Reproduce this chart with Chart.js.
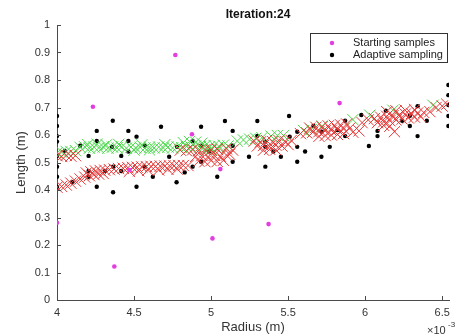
<!DOCTYPE html>
<html>
<head>
<meta charset="utf-8">
<script src="https://cdn.jsdelivr.net/npm/chart.js@4/dist/chart.umd.min.js"></script>
<style>
  body { margin: 0; background: #fff; }
</style>
</head>
<body>
<canvas id="sampling" width="458" height="335"></canvas>
<script>
// radius values are in units of 1e-3 m
const titleText = 'Iteration:24';
const xTicks = [4, 4.5, 5, 5.5, 6, 6.5];
const yTicks = [0, 0.1, 0.2, 0.3, 0.4, 0.5, 0.6, 0.7, 0.8, 0.9, 1];

const startingSamples = [
  [4.0, 0.281], [4.233, 0.703], [4.372, 0.122], [4.47, 0.473], [4.768, 0.891],
  [4.876, 0.603], [5.009, 0.224], [5.06, 0.476], [5.373, 0.276], [5.834, 0.716]
];

const adaptiveSamples = [
  [4.0, 0.669], [4.0, 0.633], [4.0, 0.596], [4.0, 0.576], [4.0, 0.524], [4.0, 0.485],
  [4.0, 0.448], [4.0, 0.412], [4.05, 0.542], [4.1, 0.428], [4.15, 0.561], [4.205, 0.524],
  [4.205, 0.448], [4.205, 0.469], [4.258, 0.615], [4.258, 0.578], [4.258, 0.412], [4.311, 0.469],
  [4.357, 0.557], [4.362, 0.652], [4.364, 0.485], [4.364, 0.392], [4.417, 0.524], [4.417, 0.469],
  [4.463, 0.615], [4.463, 0.578], [4.463, 0.54], [4.516, 0.594], [4.516, 0.412], [4.569, 0.561],
  [4.569, 0.485], [4.622, 0.448], [4.675, 0.63], [4.728, 0.521], [4.776, 0.428], [4.78, 0.557],
  [4.829, 0.464], [4.88, 0.578], [4.88, 0.485], [4.935, 0.63], [4.935, 0.561], [4.935, 0.503],
  [4.987, 0.54], [5.04, 0.448], [5.09, 0.651], [5.14, 0.615], [5.14, 0.561], [5.14, 0.503],
  [5.246, 0.521], [5.3, 0.651], [5.3, 0.597], [5.352, 0.576], [5.352, 0.557], [5.352, 0.485],
  [5.404, 0.54], [5.453, 0.521], [5.506, 0.669], [5.51, 0.594], [5.559, 0.612], [5.559, 0.557],
  [5.559, 0.503], [5.61, 0.54], [5.664, 0.633], [5.716, 0.521], [5.717, 0.612], [5.77, 0.557],
  [5.82, 0.618], [5.87, 0.652], [5.87, 0.596], [5.975, 0.673], [6.024, 0.56], [6.08, 0.615],
  [6.08, 0.596], [6.134, 0.688], [6.24, 0.652], [6.29, 0.633], [6.29, 0.67], [6.34, 0.705],
  [6.34, 0.596], [6.4, 0.652], [6.54, 0.782], [6.54, 0.745], [6.54, 0.709], [6.54, 0.669], [6.54, 0.633]
];

const greenCrosses = [
  [4.00, 0.535], [4.03, 0.538], [4.06, 0.540], [4.09, 0.540], [4.12, 0.543],
  [4.15, 0.555], [4.18, 0.557], [4.21, 0.552], [4.24, 0.556], [4.27, 0.553], [4.30, 0.557],
  [4.33, 0.552], [4.36, 0.556], [4.39, 0.553], [4.42, 0.557], [4.45, 0.552], [4.48, 0.556],
  [4.51, 0.553], [4.54, 0.555], [4.57, 0.552], [4.60, 0.556], [4.63, 0.553], [4.66, 0.556],
  [4.69, 0.553], [4.72, 0.556], [4.75, 0.553], [4.78, 0.557], [4.81, 0.554], [4.84, 0.558],
  [4.87, 0.556], [4.90, 0.560], [4.93, 0.557], [4.96, 0.561], [4.99, 0.558], [5.02, 0.562],
  [5.05, 0.559], [5.08, 0.563], [5.11, 0.560],
  [4.20, 0.565], [4.26, 0.566], [4.32, 0.564], [4.40, 0.566], [4.55, 0.564], [4.70, 0.565],
  [4.82, 0.572], [4.86, 0.576], [4.90, 0.574], [4.94, 0.570], [4.97, 0.545], [5.00, 0.548],
  [5.04, 0.550], [4.50, 0.545], [4.60, 0.546],
  [5.17, 0.578], [5.21, 0.582], [5.25, 0.585], [5.29, 0.588], [5.33, 0.590], [5.39, 0.596],
  [5.43, 0.598], [5.47, 0.598], [5.60, 0.616], [5.65, 0.620], [5.72, 0.632], [5.92, 0.656],
  [6.03, 0.672], [6.18, 0.690], [6.44, 0.708]
];

const redCrosses = [
  [4.00, 0.525], [4.03, 0.522], [4.06, 0.526], [4.09, 0.523], [4.12, 0.525],
  [4.00, 0.410], [4.03, 0.413], [4.06, 0.418], [4.09, 0.425], [4.12, 0.432], [4.15, 0.440],
  [4.18, 0.447], [4.21, 0.452], [4.24, 0.456], [4.27, 0.458], [4.30, 0.460], [4.19, 0.462],
  [4.22, 0.466], [4.25, 0.469], [4.28, 0.471], [4.31, 0.472], [4.34, 0.474], [4.37, 0.476],
  [4.40, 0.478], [4.43, 0.479], [4.46, 0.481], [4.49, 0.482], [4.52, 0.483], [4.55, 0.484],
  [4.58, 0.485], [4.61, 0.486], [4.64, 0.486], [4.67, 0.487], [4.70, 0.487], [4.73, 0.488],
  [4.76, 0.488], [4.79, 0.489], [4.82, 0.489], [4.85, 0.489],
  [4.47, 0.468], [4.53, 0.470], [4.59, 0.472], [4.66, 0.473], [4.72, 0.475], [4.78, 0.476],
  [4.80, 0.545], [4.84, 0.543], [4.88, 0.546], [4.92, 0.544], [4.96, 0.547], [5.00, 0.545],
  [5.04, 0.548], [4.90, 0.522], [4.94, 0.525], [4.98, 0.521], [5.02, 0.526], [5.06, 0.523],
  [5.10, 0.527], [4.92, 0.505], [4.96, 0.503], [5.00, 0.507], [5.04, 0.504], [5.08, 0.508],
  [5.12, 0.530], [5.14, 0.545], [5.10, 0.550],
  [5.28, 0.578], [5.32, 0.575], [5.36, 0.580], [5.40, 0.576], [5.44, 0.580], [5.48, 0.577],
  [5.52, 0.580], [5.30, 0.560], [5.34, 0.562], [5.38, 0.558], [5.42, 0.563], [5.46, 0.560],
  [5.50, 0.565], [5.34, 0.545], [5.38, 0.548], [5.42, 0.546],
  [5.58, 0.605], [5.62, 0.608], [5.66, 0.610], [5.70, 0.612], [5.74, 0.615], [5.78, 0.617],
  [5.82, 0.620], [5.86, 0.622], [5.90, 0.625], [5.64, 0.625], [5.68, 0.628], [5.72, 0.630],
  [5.76, 0.633], [5.80, 0.635], [5.84, 0.637], [5.88, 0.640], [5.70, 0.595], [5.74, 0.598],
  [5.78, 0.600], [5.82, 0.602], [5.86, 0.605], [5.92, 0.610], [5.96, 0.615], [5.98, 0.645],
  [6.19, 0.612],
  [6.02, 0.655], [6.06, 0.660], [6.10, 0.665], [6.14, 0.668], [6.18, 0.670], [6.22, 0.673],
  [6.26, 0.676], [6.30, 0.678], [6.34, 0.680], [6.38, 0.682], [6.42, 0.685], [6.08, 0.645],
  [6.12, 0.648], [6.16, 0.652], [6.20, 0.655], [6.24, 0.658], [6.28, 0.662], [6.32, 0.665],
  [6.36, 0.666], [6.14, 0.685], [6.20, 0.688], [6.26, 0.690], [6.32, 0.692], [6.12, 0.635],
  [6.16, 0.632], [6.46, 0.700], [6.50, 0.705], [6.53, 0.712]
];

const FONT = "'Liberation Sans', Arial, Helvetica, sans-serif";
const AXIS = '#4a4a4a';
const toPts = (arr) => arr.map(p => ({ x: p[0], y: p[1] }));
const plainNum = (v) => String(Number(v.toFixed(2)));

// inward tick marks, title, legend box and the x10^-3 exponent, MATLAB style
const matlabBits = {
  id: 'matlabBits',
  afterDraw(chart) {
    const ctx = chart.ctx;
    const xs = chart.scales.x, ys = chart.scales.y;
    const area = chart.chartArea;
    ctx.save();
    ctx.strokeStyle = AXIS;
    ctx.lineWidth = 1;
    ctx.beginPath();
    xTicks.forEach(v => {
      const px = Math.round(xs.getPixelForValue(v)) + 0.5;
      ctx.moveTo(px, area.bottom); ctx.lineTo(px, area.bottom - 4);
    });
    yTicks.forEach(v => {
      const py = Math.round(ys.getPixelForValue(v)) + 0.5;
      ctx.moveTo(area.left, py); ctx.lineTo(area.left + 4, py);
    });
    ctx.stroke();

    // title
    ctx.fillStyle = '#111';
    ctx.font = 'bold 12px ' + FONT;
    ctx.textAlign = 'center';
    ctx.textBaseline = 'middle';
    ctx.fillText(titleText, 258, 15);

    // legend
    ctx.fillStyle = '#fff';
    ctx.fillRect(310.5, 33.5, 137, 29);
    ctx.strokeStyle = '#333';
    ctx.strokeRect(310.5, 33.5, 137, 29);
    const entries = [
      { label: 'Starting samples', color: '#e23ee0', y: 43 },
      { label: 'Adaptive sampling', color: '#000', y: 55 }
    ];
    ctx.font = '11px ' + FONT;
    ctx.textAlign = 'left';
    entries.forEach(e => {
      ctx.fillStyle = e.color;
      ctx.beginPath();
      ctx.arc(332, e.y, 2.2, 0, Math.PI * 2);
      ctx.fill();
      ctx.fillStyle = '#222';
      ctx.fillText(e.label, 353, e.y);
    });

    // exponent
    ctx.fillStyle = '#333';
    ctx.font = '11px ' + FONT;
    ctx.textBaseline = 'alphabetic';
    ctx.fillText('\u00d710', 427, 334);
    ctx.font = '8px ' + FONT;
    ctx.fillText('-3', 448, 327);
    ctx.restore();
  }
};

new Chart(document.getElementById('sampling'), {
  type: 'scatter',
  data: {
    datasets: [
      {
        label: 'Predicted (red)',
        data: toPts(redCrosses),
        pointStyle: 'crossRot',
        pointRadius: 8,
        borderColor: 'rgb(228, 56, 56)',
        borderWidth: 1,
        order: 1
      },
      {
        label: 'Predicted (green)',
        data: toPts(greenCrosses),
        pointStyle: 'crossRot',
        pointRadius: 8,
        borderColor: 'rgb(76, 216, 76)',
        borderWidth: 1,
        order: 2
      },
      {
        label: 'Adaptive sampling',
        data: toPts(adaptiveSamples),
        pointRadius: 2.2,
        backgroundColor: '#000',
        borderWidth: 0,
        order: 3
      },
      {
        label: 'Starting samples',
        data: toPts(startingSamples),
        pointRadius: 2.3,
        backgroundColor: '#e23ee0',
        borderWidth: 0,
        order: 0
      }
    ]
  },
  options: {
    responsive: false,
    animation: false,
    devicePixelRatio: 1,
    layout: { padding: { top: 25, right: 0, left: 0, bottom: 0 } },
    plugins: {
      legend: { display: false },
      tooltip: { enabled: false },
      title: { display: false }
    },
    scales: {
      x: {
        type: 'linear',
        min: 4,
        max: 6.544,
        ticks: {
          stepSize: 0.5,
          includeBounds: false,
          color: '#333',
          padding: 6,
          maxRotation: 0,
          font: { size: 11, family: FONT },
          callback: plainNum
        },
        grid: { drawOnChartArea: false, drawTicks: false },
        border: { color: AXIS, width: 1 },
        title: {
          display: true,
          text: 'Radius (m)',
          color: '#333',
          font: { size: 13, family: FONT },
          padding: { top: 0, bottom: 0 }
        },
        afterFit(scale) {
          scale.height = 35;
          scale.paddingLeft = 0;
          scale.paddingRight = 0;
        }
      },
      y: {
        type: 'linear',
        min: 0,
        max: 1,
        ticks: {
          stepSize: 0.1,
          color: '#333',
          padding: 7,
          font: { size: 11, family: FONT },
          callback: plainNum
        },
        grid: { drawOnChartArea: false, drawTicks: false },
        border: { color: AXIS, width: 1 },
        title: {
          display: true,
          text: 'Length (m)',
          color: '#333',
          font: { size: 13, family: FONT },
          padding: { top: 14, bottom: 0 }
        },
        afterFit(scale) {
          scale.width = 57;
          scale.paddingTop = 0;
          scale.paddingBottom = 0;
        }
      }
    }
  },
  plugins: [matlabBits]
});
</script>
</body>
</html>
